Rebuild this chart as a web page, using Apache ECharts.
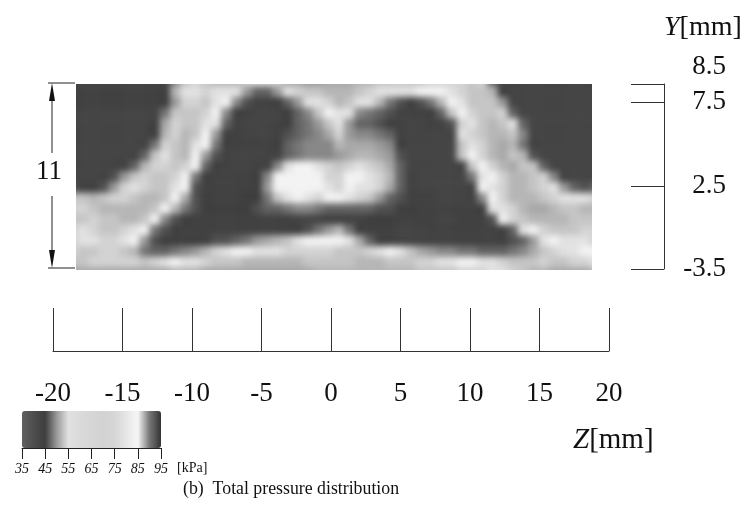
<!DOCTYPE html>
<html>
<head>
<meta charset="utf-8">
<style>
html,body{margin:0;padding:0;background:#fff}
#c{width:748px;height:506px}
/* heatmap layer (zlevel 1): soften the cells, keep crisp outer edges */
#c canvas[data-zr-dom-id="zr_1"]{filter:blur(3px);clip-path:inset(84px 156px 236px 76px)}
</style>
<script src="https://cdn.jsdelivr.net/npm/echarts@6/dist/echarts.min.js"></script>
</head>
<body>
<div id="c"></div>
<script>
// Z axis of the measurement plane
const zTicks = [-20,-15,-10,-5,0,5,10,15,20];
// Y axis: the reference scale is not linear, so labels sit on stations along the bracket
const yStations = [0,83,167,185];
const yLabels = ['-3.5','2.5','7.5','8.5'];
// colour legend ticks and grey levels (every 5 kPa from 35 to 95)
const kpaTicks = [35,45,55,65,75,85,95];
const kpaGreys = ['#606060','#4e4e4e','#3e3e3e','#999999','#e2e2e2','#dadada','#d6d6d6','#d2d2d2','#d6d6d6','#e6e6e6','#f6f6f6','#777777','#333333'];
// total pressure [kPa], one array per row from top to bottom
const row00=[43,43,43,43,43,43,43,43,43,43,49,53,54,53,52,52,52,54,55,55,54,51,51,50,50,51,51,51,52,52,53,53,53,53,53,54,54,54,54,53,54,47,43,43,43,43,43,43,43,43,43,43];
const row01=[44,44,44,44,44,44,44,44,44,45,52,55,55,54,55,55,55,50,47,47,50,55,54,53,53,52,52,52,53,54,55,55,55,55,84,84,84,55,54,53,53,52,45,43,43,43,43,43,43,43,43,43];
const row02=[44,44,44,44,44,44,44,44,44,45,50,54,54,53,55,84,49,46,44,44,45,47,50,55,55,54,52,53,55,55,52,48,46,45,46,48,52,84,55,53,53,53,50,43,43,43,43,43,43,43,43,43];
const row03=[43,43,43,43,43,43,43,43,43,48,53,53,53,54,84,49,45,44,43,43,43,45,47,49,53,84,55,55,49,48,47,46,44,44,44,45,47,53,84,54,53,53,54,47,43,43,43,43,43,43,43,43];
const row04=[43,43,43,43,43,43,43,43,45,51,54,53,53,55,55,47,44,43,43,43,44,45,47,48,50,53,55,50,47,47,46,45,44,43,43,44,44,46,54,55,53,52,53,55,47,43,43,43,43,43,43,43];
const row05=[43,43,43,43,43,43,43,43,45,52,54,52,53,84,50,45,44,43,43,43,44,46,47,48,49,51,54,50,49,49,48,47,44,43,43,43,43,44,55,54,53,52,52,53,49,43,43,43,43,43,43,43];
const row06=[43,43,43,43,43,43,43,44,48,54,53,52,55,84,48,45,44,44,44,44,45,47,48,49,49,49,52,51,51,51,50,49,45,43,43,43,43,43,53,55,54,52,51,52,48,44,43,43,43,43,43,43];
const row07=[43,43,43,43,43,43,44,47,53,55,53,52,84,50,46,44,43,43,43,44,44,47,48,49,49,49,50,51,52,52,51,50,46,43,43,43,43,43,53,84,54,52,51,53,52,46,43,43,43,43,43,43];
const row08=[43,43,43,43,43,44,47,52,54,54,53,54,84,47,45,44,43,43,44,44,49,55,84,84,55,54,53,54,55,54,53,51,47,43,43,43,43,43,44,53,84,54,52,51,53,53,47,43,43,43,43,43];
const row09=[43,43,43,44,46,50,53,54,53,53,54,84,48,45,44,44,44,44,45,49,84,84,84,84,84,54,54,84,84,55,54,52,47,44,43,43,43,43,43,48,55,84,54,52,52,53,54,49,44,43,43,43];
const row10=[46,45,45,46,50,54,55,54,53,53,55,84,46,44,44,44,44,44,45,50,84,84,84,84,84,55,54,84,55,55,54,51,47,44,43,43,43,43,43,44,84,55,54,52,52,53,54,55,50,47,46,47];
const row11=[53,53,52,53,54,54,53,52,52,53,84,51,46,45,44,44,44,45,45,48,53,55,84,55,54,84,84,55,54,53,50,47,46,44,44,44,43,43,43,44,49,84,54,52,52,52,53,54,55,55,55,54];
const row12=[54,54,53,52,52,52,52,52,53,84,52,48,46,45,45,45,45,45,46,47,47,48,49,49,48,47,47,47,47,47,46,46,45,45,44,44,44,44,44,44,45,55,55,54,52,51,51,52,53,53,52,52];
const row13=[53,53,54,53,53,52,52,53,84,49,46,45,44,44,44,44,44,44,44,44,44,44,43,43,43,44,44,44,44,45,45,45,44,44,44,44,43,43,44,44,44,46,84,54,53,52,52,52,52,53,53,53];
const row14=[54,55,54,53,53,54,55,84,48,46,45,44,44,44,44,44,44,44,44,44,44,44,45,46,48,50,52,48,45,44,44,44,43,43,43,44,44,44,44,44,44,44,45,47,55,84,54,53,53,53,54,54];
const row15=[54,55,55,54,54,55,84,50,46,45,45,45,45,45,46,46,47,48,50,51,52,53,55,84,84,84,84,55,51,47,45,45,44,44,44,44,44,44,44,44,44,44,45,46,47,50,55,84,55,55,55,54];
const row16=[54,53,53,54,54,53,52,48,47,47,48,49,50,52,54,55,84,84,55,55,55,54,54,54,54,54,53,53,53,54,55,84,55,53,51,50,49,49,48,48,47,47,47,48,49,51,53,54,55,55,84,84];
const row17=[53,53,54,54,54,54,54,53,54,55,84,55,55,54,53,53,53,52,52,52,52,52,52,53,53,53,53,53,52,52,52,53,53,53,54,54,55,55,84,84,55,55,54,53,53,53,54,53,53,54,54,55];
const row18=[51,51,51,51,51,51,51,51,51,51,52,52,52,51,51,51,51,51,51,51,51,51,51,51,52,52,52,52,52,52,52,52,52,52,53,53,53,53,54,54,54,55,55,54,53,52,52,51,51,51,51,52];
const rows=[row00,row01,row02,row03,row04,row05,row06,row07,row08,row09,row10,row11,row12,row13,row14,row15,row16,row17,row18];

const FONT='"Liberation Serif","Times New Roman",serif', INK='#111', AXIS='#333';
const cells=[];
rows.forEach((r,y)=>r.forEach((v,x)=>cells.push([x,y,v])));
const line=(x1,y1,x2,y2)=>({type:'line',shape:{x1,y1,x2,y2},style:{stroke:'#222',lineWidth:1},silent:true});
const arrow=(pts)=>({type:'polygon',shape:{points:pts},style:{fill:'#111'},silent:true});
const axisName=(size)=>({i:{fontFamily:FONT,fontStyle:'italic',fontWeight:'normal',fontSize:size,color:INK},n:{fontFamily:FONT,fontWeight:'normal',fontSize:size,color:INK}});

const chart=echarts.init(document.getElementById('c'),null,{renderer:'canvas'});
chart.setOption({
  animation:false,backgroundColor:'#fff',
  textStyle:{fontFamily:FONT,color:INK},
  title:[
    {text:'{i|Y}{n|[mm]}',left:664,top:14,padding:0,textStyle:{rich:axisName(28)}},
    {text:'{i|Z}{n|[mm]}',left:573,top:426,padding:0,textStyle:{rich:axisName(29)}},
    {text:'[kPa]',left:177,top:461,padding:0,textStyle:{fontFamily:FONT,fontSize:14,fontWeight:'normal',color:INK}},
    {text:'(b)  Total pressure distribution',left:183,top:480,padding:0,textStyle:{fontFamily:FONT,fontSize:17.8,fontWeight:'normal',color:INK}}
  ],
  grid:[
    {left:68,top:76,width:532,height:202},
    {left:53,top:308,width:556,height:43},
    {left:631,top:84,width:33,height:185},
    {left:22,top:447,width:139,height:1}
  ],
  xAxis:[
    {type:'category',gridIndex:0,show:false,data:rows[0].map((_,i)=>i)},
    {type:'value',gridIndex:1,min:-20,max:20,interval:5,splitLine:{show:false},
     axisLine:{show:true,lineStyle:{color:AXIS}},axisTick:{show:true,inside:true,length:43,lineStyle:{color:AXIS}},
     axisLabel:{fontFamily:FONT,fontSize:27,color:INK,margin:29,showMinLabel:true,showMaxLabel:true,hideOverlap:false,customValues:zTicks}},
    {type:'value',gridIndex:2,show:false,min:0,max:1},
    {type:'value',gridIndex:3,min:35,max:95,splitLine:{show:false},
     axisLine:{show:true,lineStyle:{color:'#222'}},axisTick:{show:true,length:11,customValues:kpaTicks,lineStyle:{color:'#222'}},
     axisLabel:{fontFamily:FONT,fontSize:14,fontStyle:'italic',color:INK,margin:14,customValues:kpaTicks}}
  ],
  yAxis:[
    {type:'category',gridIndex:0,show:false,inverse:true,data:rows.map((_,i)=>i)},
    {type:'value',gridIndex:1,show:false,min:0,max:1},
    {type:'value',gridIndex:2,position:'right',min:0,max:185,splitLine:{show:false},
     axisLine:{show:true,onZero:false,lineStyle:{color:AXIS}},
     axisTick:{show:true,inside:true,length:33,customValues:yStations,lineStyle:{color:AXIS}},
     axisLabel:{fontFamily:FONT,fontSize:27,color:INK,margin:62,align:'right',customValues:yStations,
       formatter:(v)=>{const s=yLabels[yStations.indexOf(v)];return v===185?'{up|'+s+'}':s;},
       rich:{up:{fontFamily:FONT,fontSize:27,color:INK,padding:[0,0,34,0]}}}},
    {type:'value',gridIndex:3,show:false,min:0,max:1}
  ],
  visualMap:{type:'continuous',seriesIndex:0,dimension:2,min:35,max:95,orient:'horizontal',left:22,top:411,
    itemWidth:37,itemHeight:139,text:null,showLabel:false,calculable:false,hoverLink:false,padding:0,borderRadius:0,
    inRange:{color:kpaGreys}},
  series:[{type:'heatmap',xAxisIndex:0,yAxisIndex:0,data:cells,zlevel:1,progressive:0,emphasis:{disabled:true}}],
  graphic:[
    line(48,83,75,83),line(48,268,75,268),line(52,92,52,153),line(52,196,52,258),
    arrow([[52,83],[49,101],[55,101]]),arrow([[52,268],[49,250],[55,250]]),
    {type:'text',left:36,top:158,style:{text:'11',font:'27px '+FONT,fill:INK},silent:true}
  ]
});
</script>
</body>
</html>
